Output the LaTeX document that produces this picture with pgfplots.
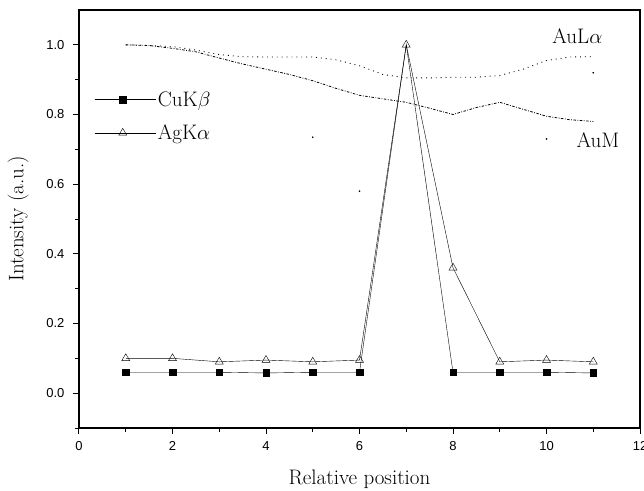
\documentclass[border=0pt]{standalone}
\usepackage{pgfplots}
\pgfplotsset{compat=1.18}
\usepackage{fontspec}
\newfontfamily\tickfont{Liberation Sans}
\usetikzlibrary{calc}
\begin{document}
\begin{tikzpicture}
\begin{axis}[
  name=ax,
  scale only axis,
  width=561pt, height=418pt,
  xmin=0, xmax=12, ymin=-0.1, ymax=1.1,
  xtick={0,2,...,12}, minor xtick={1,3,...,11},
  ytick={0,0.2,...,1.0}, minor ytick={-0.1,0.1,0.3,0.5,0.7,0.9},
  tick align=outside,
  xtick pos=bottom, ytick pos=left,
  major tick length=6pt, minor tick length=4pt,
  axis line style={line width=1.2pt},
  tick style={line width=1pt,black},
  /pgf/number format/assume math mode=true,
  /pgf/number format/fixed, /pgf/number format/precision=1,
  yticklabel style={/pgf/number format/fixed zerofill, font=\tickfont\fontsize{13}{14}\selectfont, xshift=-5pt},
  xticklabel style={font=\tickfont\fontsize{13}{14}\selectfont, yshift=-4pt},
  xlabel={Relative position},
  ylabel={Intensity (a.u.)},
  label style={font=\fontsize{21}{24}\selectfont},
  xlabel style={yshift=-12pt},
  ylabel style={yshift=11pt},
  legend style={draw=none, fill=none, at={(0.022,0.815)}, anchor=north west,
    font=\fontsize{21}{24}\selectfont, row sep=13pt},
  legend cell align=left,
  legend image code/.code={\path (0pt,0pt) -- (61pt,0pt); \draw[#1,mark=none] (0pt,0pt) -- (56pt,0pt); \draw[#1] plot[only marks] coordinates {(28pt,0pt)};},
]
\addplot[black, thin, mark=square*, mark size=3.3pt, mark options={solid},
  mark indices={1,2,3,4,5,6,8,9,10,11}] coordinates {
(1,0.06)(2,0.06)(3,0.06)(4,0.058)(5,0.06)(6,0.06)(7,1.0)(8,0.06)(9,0.06)(10,0.06)(11,0.058)};
\addlegendentry{Cu$\mathrm{K}\beta$}
\addplot[black, thin, mark=triangle, mark size=4.6pt, mark options={solid, fill=white}] coordinates {
(1,0.10)(2,0.10)(3,0.09)(4,0.095)(5,0.09)(6,0.095)(7,1.0)(8,0.36)(9,0.09)(10,0.095)(11,0.09)};
\addlegendentry{Ag$\mathrm{K}\alpha$}
\addplot[black, line width=0.9pt, dash pattern=on 0.9pt off 4pt, forget plot] coordinates {
(1,1.0)(1.5,0.998)(2,0.995)(2.5,0.985)(3,0.972)(3.5,0.966)(4,0.965)(4.5,0.965)(5,0.965)(5.5,0.957)(6,0.94)(6.5,0.915)(7,0.905)(7.5,0.905)(8,0.907)(8.5,0.907)(9,0.912)(9.5,0.93)(10,0.955)(10.5,0.965)(11,0.966)};
\addplot[black, line width=0.8pt, dash pattern=on 2.5pt off 1.5pt on 0.8pt off 1.5pt, forget plot] coordinates {
(1,1.0)(1.5,0.998)(2,0.99)(2.5,0.98)(3,0.962)(3.5,0.945)(4,0.93)(4.5,0.915)(5,0.897)(5.5,0.875)(6,0.855)(6.5,0.845)(7,0.835)(7.5,0.818)(8,0.80)(8.5,0.82)(9,0.835)(9.5,0.815)(10,0.795)(10.5,0.785)(11,0.78)};
\addplot[only marks, mark=*, mark size=0.6pt, black, forget plot] coordinates {
(5,0.735)(6,0.58)(10,0.73)(11,0.92)};
\node[font=\fontsize{21}{24}\selectfont] at (axis cs:10.66,1.025) {AuL$\alpha$};
\node[font=\fontsize{21}{24}\selectfont] at (axis cs:11.1,0.727) {AuM};
\end{axis}
\pgfresetboundingbox
\path ($(ax.south west)+(-79pt,-62pt)$) rectangle ($(ax.north east)+(4pt,10pt)$);
\end{tikzpicture}
\end{document}
